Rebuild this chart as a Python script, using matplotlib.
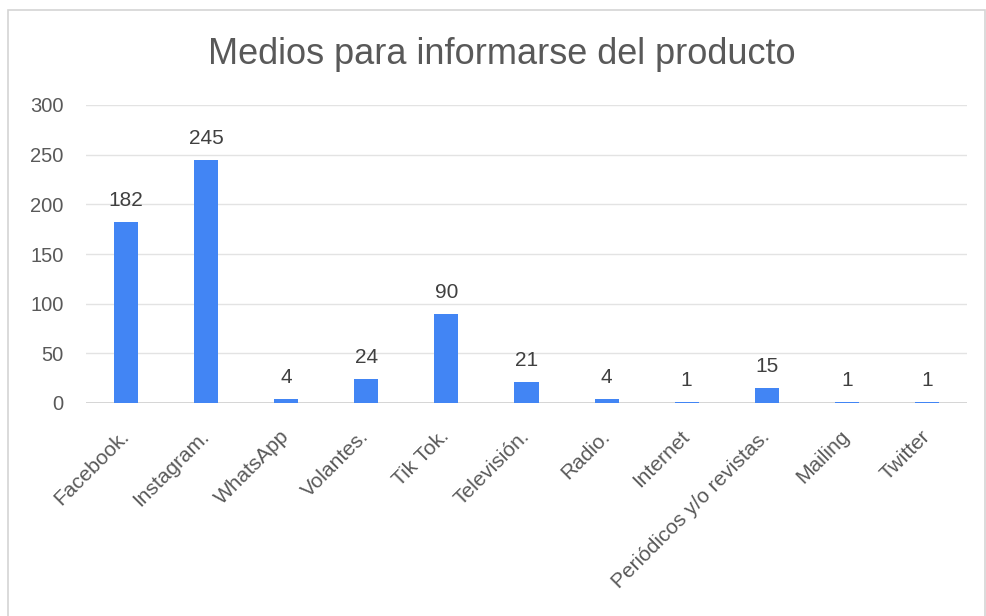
import matplotlib.pyplot as plt
from matplotlib.patches import Rectangle

categories = ['Facebook.', 'Instagram.', 'WhatsApp', 'Volantes.', 'Tik Tok.',
              'Televisión.', 'Radio.', 'Internet', 'Periódicos y/o revistas.',
              'Mailing', 'Twitter']
values = [182, 245, 4, 24, 90, 21, 4, 1, 15, 1, 1]
yticks = [0, 50, 100, 150, 200, 250, 300]

plt.rcParams['font.family'] = ['Liberation Sans', 'DejaVu Sans']

fig = plt.figure(figsize=(9.86, 6.16), dpi=100)
ax = fig.add_axes([86 / 986, 1 - 403 / 616, 881 / 986, 298 / 616])

# borde del gráfico
fig.patches.append(Rectangle((8 / 986, -0.1), 977 / 986, 1.1 - 10 / 616,
                             transform=fig.transFigure, fill=False,
                             edgecolor='#d4d4d4', linewidth=1.2))

x = range(len(categories))
bars = ax.bar(x, values, width=0.3, color='#4285f4', zorder=3)
for b, v in zip(bars, values):
    ax.text(b.get_x() + b.get_width() / 2, v + 12, str(v), ha='center',
            va='bottom', fontsize=15, color='#404040')

ax.set_xlim(-0.5, len(categories) - 0.5)
ax.set_ylim(0, 300)
ax.set_yticks(yticks)
ax.set_yticklabels([str(t) for t in yticks], fontsize=14.5, color='#595959')
ax.set_xticks(list(x))
ax.set_xticklabels(categories, rotation=45, ha='right', va='center',
                   rotation_mode='anchor', fontsize=15, color='#595959')
ax.tick_params(length=0)
ax.tick_params(axis='y', pad=16)
ax.tick_params(axis='x', pad=22)
ax.yaxis.grid(True, color='#e3e3e3', linewidth=1, zorder=0)
ax.axhline(0, color='#cfcfcf', linewidth=1.2, zorder=2)
for s in ax.spines.values():
    s.set_visible(False)

fig.text(502 / 986, 1 - 54 / 616, 'Medios para informarse del producto',
         ha='center', va='center', fontsize=26, color='#595959')

fig.savefig('out.png', dpi=100)
